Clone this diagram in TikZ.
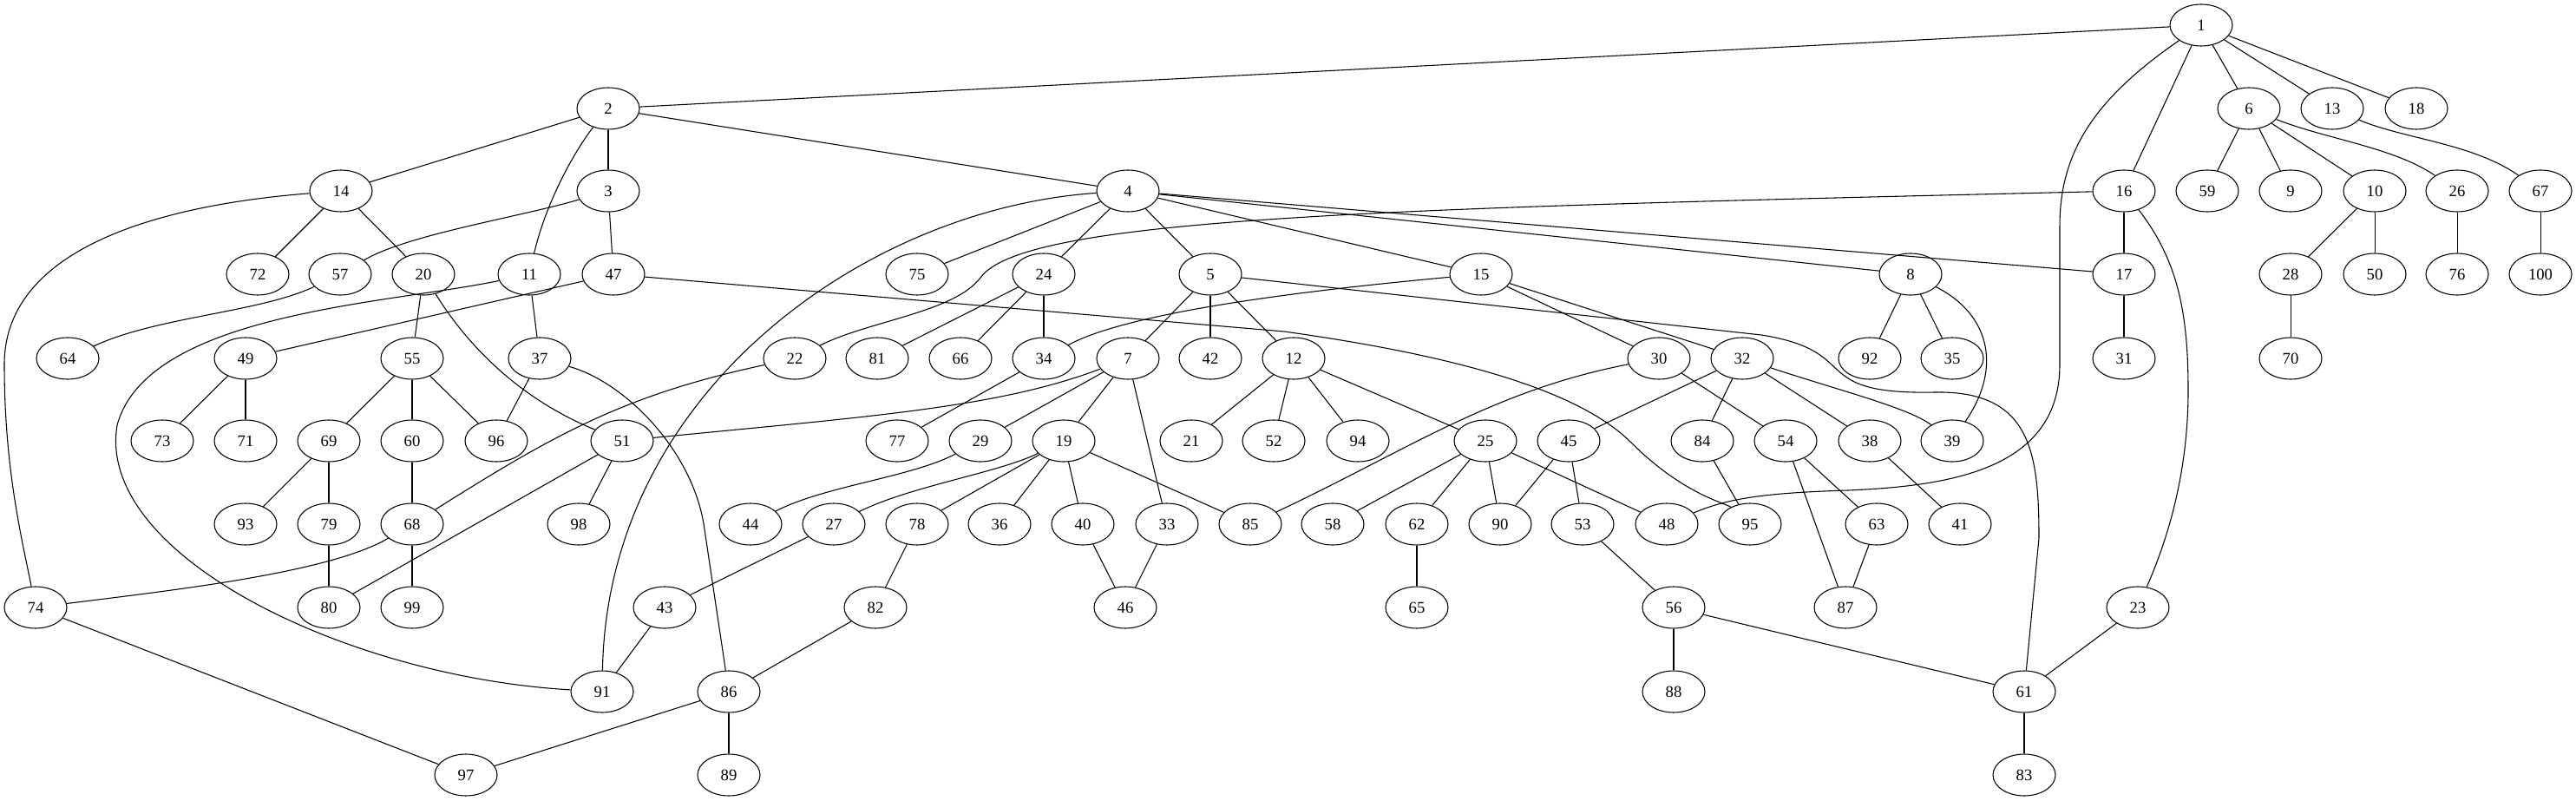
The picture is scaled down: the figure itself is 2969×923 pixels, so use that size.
\documentclass[tikz,border=0pt]{standalone}
\usepackage{fontspec}
\setmainfont{Liberation Serif}
\usetikzlibrary{shapes.geometric}
\begin{document}
\begin{tikzpicture}[x=0.75pt,y=0.75pt,yscale=-1,xscale=1,
	vtx/.style={draw,ellipse,minimum width=54pt,minimum height=36pt,inner sep=0pt,line width=0.8pt,font=\fontsize{14pt}{16pt}\selectfont},
	link/.style={line width=0.8pt}]
		%set diagram left start at 0, and has height of 923
		\useasboundingbox (0,0) rectangle (2969,923);

		%Shape: Ellipse [rank 1]
		\node[vtx] (n1) at (2537,29) {1};
		%Shape: Ellipse [rank 2]
		\node[vtx] (n2) at (701,125) {2};
		\node[vtx] (n6) at (2592,125) {6};
		\node[vtx] (n13) at (2688,125) {13};
		\node[vtx] (n18) at (2785,125) {18};
		%Shape: Ellipse [rank 3]
		\node[vtx] (n14) at (393,220) {14};
		\node[vtx] (n3) at (701,220) {3};
		\node[vtx] (n4) at (1300,220) {4};
		\node[vtx] (n16) at (2448,220) {16};
		\node[vtx] (n59) at (2544,220) {59};
		\node[vtx] (n9) at (2640,220) {9};
		\node[vtx] (n10) at (2737,220) {10};
		\node[vtx] (n26) at (2832,220) {26};
		\node[vtx] (n67) at (2928,220) {67};
		%Shape: Ellipse [rank 4]
		\node[vtx] (n72) at (297,316) {72};
		\node[vtx] (n57) at (392,316) {57};
		\node[vtx] (n20) at (488,316) {20};
		\node[vtx] (n11) at (610,316) {11};
		\node[vtx] (n47) at (707,316) {47};
		\node[vtx] (n75) at (1057,316) {75};
		\node[vtx] (n24) at (1203,316) {24};
		\node[vtx] (n5) at (1395,316) {5};
		\node[vtx] (n15) at (1707,316) {15};
		\node[vtx] (n8) at (2202,316) {8};
		\node[vtx] (n17) at (2448,316) {17};
		\node[vtx] (n28) at (2640,316) {28};
		\node[vtx] (n50) at (2737,316) {50};
		\node[vtx] (n76) at (2832,316) {76};
		\node[vtx] (n100) at (2928,316) {100};
		%Shape: Ellipse [rank 5]
		\node[vtx] (n64) at (78,413) {64};
		\node[vtx] (n49) at (283,413) {49};
		\node[vtx] (n55) at (475,413) {55};
		\node[vtx] (n37) at (622,413) {37};
		\node[vtx] (n22) at (916,413) {22};
		\node[vtx] (n81) at (1011,413) {81};
		\node[vtx] (n66) at (1107,413) {66};
		\node[vtx] (n34) at (1203,413) {34};
		\node[vtx] (n7) at (1300,413) {7};
		\node[vtx] (n42) at (1395,413) {42};
		\node[vtx] (n12) at (1491,413) {12};
		\node[vtx] (n30) at (1912,413) {30};
		\node[vtx] (n32) at (2008,413) {32};
		\node[vtx] (n92) at (2155,413) {92};
		\node[vtx] (n35) at (2250,413) {35};
		\node[vtx] (n31) at (2448,413) {31};
		\node[vtx] (n70) at (2640,413) {70};
		%Shape: Ellipse [rank 6]
		\node[vtx] (n73) at (187,508) {73};
		\node[vtx] (n71) at (283,508) {71};
		\node[vtx] (n69) at (379,508) {69};
		\node[vtx] (n60) at (475,508) {60};
		\node[vtx] (n96) at (572,508) {96};
		\node[vtx] (n51) at (717,508) {51};
		\node[vtx] (n77) at (1034,508) {77};
		\node[vtx] (n29) at (1130,508) {29};
		\node[vtx] (n19) at (1226,508) {19};
		\node[vtx] (n21) at (1373,508) {21};
		\node[vtx] (n52) at (1468,508) {52};
		\node[vtx] (n94) at (1565,508) {94};
		\node[vtx] (n25) at (1712,508) {25};
		\node[vtx] (n45) at (1808,508) {45};
		\node[vtx] (n84) at (1962,508) {84};
		\node[vtx] (n54) at (2058,508) {54};
		\node[vtx] (n38) at (2155,508) {38};
		\node[vtx] (n39) at (2250,508) {39};
		%Shape: Ellipse [rank 7]
		\node[vtx] (n93) at (283,604) {93};
		\node[vtx] (n79) at (379,604) {79};
		\node[vtx] (n68) at (475,604) {68};
		\node[vtx] (n98) at (667,604) {98};
		\node[vtx] (n44) at (865,604) {44};
		\node[vtx] (n27) at (961,604) {27};
		\node[vtx] (n78) at (1057,604) {78};
		\node[vtx] (n36) at (1152,604) {36};
		\node[vtx] (n40) at (1248,604) {40};
		\node[vtx] (n33) at (1345,604) {33};
		\node[vtx] (n85) at (1441,604) {85};
		\node[vtx] (n58) at (1536,604) {58};
		\node[vtx] (n62) at (1633,604) {62};
		\node[vtx] (n90) at (1729,604) {90};
		\node[vtx] (n53) at (1824,604) {53};
		\node[vtx] (n48) at (1921,604) {48};
		\node[vtx] (n95) at (2017,604) {95};
		\node[vtx] (n63) at (2163,604) {63};
		\node[vtx] (n41) at (2259,604) {41};
		%Shape: Ellipse [rank 8]
		\node[vtx] (n74) at (41,700) {74};
		\node[vtx] (n80) at (379,700) {80};
		\node[vtx] (n99) at (475,700) {99};
		\node[vtx] (n43) at (766,700) {43};
		\node[vtx] (n82) at (1009,700) {82};
		\node[vtx] (n46) at (1297,700) {46};
		\node[vtx] (n65) at (1633,700) {65};
		\node[vtx] (n56) at (1929,700) {56};
		\node[vtx] (n87) at (2127,700) {87};
		\node[vtx] (n23) at (2464,700) {23};
		%Shape: Ellipse [rank 9]
		\node[vtx] (n91) at (694,797) {91};
		\node[vtx] (n86) at (840,797) {86};
		\node[vtx] (n88) at (1929,797) {88};
		\node[vtx] (n61) at (2333,797) {61};
		%Shape: Ellipse [rank 10]
		\node[vtx] (n97) at (537,893) {97};
		\node[vtx] (n89) at (840,893) {89};
		\node[vtx] (n83) at (2333,893) {83};

		%Straight Lines
		\draw[link] (n1) -- (n2);
		\draw[link] (n1) -- (n16);
		\draw[link] (n1) -- (n6);
		\draw[link] (n1) -- (n13);
		\draw[link] (n1) -- (n18);
		\draw[link] (n2) -- (n14);
		\draw[link] (n2) -- (n3);
		\draw[link] (n2) -- (n4);
		\draw[link] (n3) -- (n47);
		\draw[link] (n14) -- (n72);
		\draw[link] (n14) -- (n20);
		\draw[link] (n4) -- (n75);
		\draw[link] (n4) -- (n24);
		\draw[link] (n4) -- (n5);
		\draw[link] (n4) -- (n15);
		\draw[link] (n4) -- (n8);
		\draw[link] (n4) -- (n17);
		\draw[link] (n16) -- (n17);
		\draw[link] (n6) -- (n59);
		\draw[link] (n6) -- (n9);
		\draw[link] (n6) -- (n10);
		\draw[link] (n10) -- (n28);
		\draw[link] (n10) -- (n50);
		\draw[link] (n26) -- (n76);
		\draw[link] (n67) -- (n100);
		\draw[link] (n17) -- (n31);
		\draw[link] (n28) -- (n70);
		\draw[link] (n20) -- (n55);
		\draw[link] (n11) -- (n37);
		\draw[link] (n47) -- (n49);
		\draw[link] (n55) -- (n69);
		\draw[link] (n55) -- (n60);
		\draw[link] (n55) -- (n96);
		\draw[link] (n37) -- (n96);
		\draw[link] (n49) -- (n73);
		\draw[link] (n49) -- (n71);
		\draw[link] (n69) -- (n93);
		\draw[link] (n69) -- (n79);
		\draw[link] (n60) -- (n68);
		\draw[link] (n79) -- (n80);
		\draw[link] (n68) -- (n99);
		\draw[link] (n51) -- (n98);
		\draw[link] (n51) -- (n80);
		\draw[link] (n74) -- (n97);
		\draw[link] (n86) -- (n97);
		\draw[link] (n86) -- (n89);
		\draw[link] (n43) -- (n91);
		\draw[link] (n27) -- (n43);
		\draw[link] (n78) -- (n82);
		\draw[link] (n82) -- (n86);
		\draw[link] (n40) -- (n46);
		\draw[link] (n33) -- (n46);
		\draw[link] (n24) -- (n81);
		\draw[link] (n24) -- (n66);
		\draw[link] (n24) -- (n34);
		\draw[link] (n34) -- (n77);
		\draw[link] (n15) -- (n30);
		\draw[link] (n15) -- (n32);
		\draw[link] (n5) -- (n7);
		\draw[link] (n5) -- (n42);
		\draw[link] (n5) -- (n12);
		\draw[link] (n7) -- (n29);
		\draw[link] (n7) -- (n19);
		\draw[link] (n7) -- (n33);
		\draw[link] (n19) -- (n78);
		\draw[link] (n19) -- (n36);
		\draw[link] (n19) -- (n40);
		\draw[link] (n19) -- (n85);
		\draw[link] (n12) -- (n21);
		\draw[link] (n12) -- (n52);
		\draw[link] (n12) -- (n94);
		\draw[link] (n12) -- (n25);
		\draw[link] (n25) -- (n58);
		\draw[link] (n25) -- (n62);
		\draw[link] (n25) -- (n90);
		\draw[link] (n25) -- (n48);
		\draw[link] (n62) -- (n65);
		\draw[link] (n45) -- (n90);
		\draw[link] (n45) -- (n53);
		\draw[link] (n53) -- (n56);
		\draw[link] (n56) -- (n88);
		\draw[link] (n56) -- (n61);
		\draw[link] (n30) -- (n54);
		\draw[link] (n32) -- (n45);
		\draw[link] (n32) -- (n84);
		\draw[link] (n32) -- (n38);
		\draw[link] (n32) .. controls (2120,450) and (2200,470) .. (n39);
		\draw[link] (n84) -- (n95);
		\draw[link] (n54) -- (n63);
		\draw[link] (n54) -- (n87);
		\draw[link] (n63) -- (n87);
		\draw[link] (n38) -- (n41);
		\draw[link] (n8) -- (n92);
		\draw[link] (n8) -- (n35);
		\draw[link] (n23) -- (n61);
		\draw[link] (n61) -- (n83);

		%Curve Lines
		\draw[link] (n1) .. controls (2420,110) and (2374,170) .. (2374,260) -- (2374,420) .. controls (2374,540) and (2250,560) .. (2130,565) .. controls (2030,568) and (1990,575) .. (n48);
		\draw[link] (n2) .. controls (665,170) and (630,230) .. (n11);
		\draw[link] (n3) .. controls (600,250) and (470,270) .. (n57);
		\draw[link] (n14) .. controls (200,235) and (5,280) .. (5,420) .. controls (5,540) and (25,620) .. (n74);
		\draw[link] (n4) .. controls (1000,240) and (700,450) .. (n91);
		\draw[link] (n16) .. controls (2510,300) and (2522,360) .. (2522,450) .. controls (2522,560) and (2490,640) .. (n23);
		\draw[link] (n16) .. controls (1600,240) and (1180,250) .. (1130,320) .. controls (1100,360) and (1000,370) .. (n22);
		\draw[link] (n6) .. controls (2680,160) and (2760,170) .. (n26);
		\draw[link] (n13) .. controls (2770,160) and (2850,165) .. (n67);
		\draw[link] (n20) .. controls (540,400) and (600,460) .. (n51);
		\draw[link] (n11) .. controls (450,350) and (170,360) .. (135,490) .. controls (110,640) and (400,780) .. (n91);
		\draw[link] (n47) -- (1480,382) .. controls (1680,410) and (1820,450) .. (1880,510) .. controls (1940,570) and (1990,580) .. (n95);
		\draw[link] (n57) .. controls (300,360) and (180,365) .. (n64);
		\draw[link] (n37) .. controls (720,440) and (800,520) .. (812,610) -- (n86);
		\draw[link] (n68) .. controls (380,660) and (200,680) .. (n74);
		\draw[link] (n7) .. controls (1150,470) and (1000,480) .. (n51);
		\draw[link] (n22) .. controls (720,455) and (640,500) .. (n68);
		\draw[link] (n15) .. controls (1500,335) and (1300,360) .. (n34);
		\draw[link] (n29) .. controls (1050,550) and (950,560) .. (n44);
		\draw[link] (n19) .. controls (1150,545) and (1050,560) .. (n27);
		\draw[link] (n5) -- (2030,386) .. controls (2150,405) and (2080,455) .. (2230,452) .. controls (2340,450) and (2350,520) .. (2350,620) -- (n61);
		\draw[link] (n30) .. controls (1720,450) and (1620,520) .. (n85);
		\draw[link] (n8) .. controls (2290,360) and (2310,420) .. (n39);

\end{tikzpicture}
\end{document}
